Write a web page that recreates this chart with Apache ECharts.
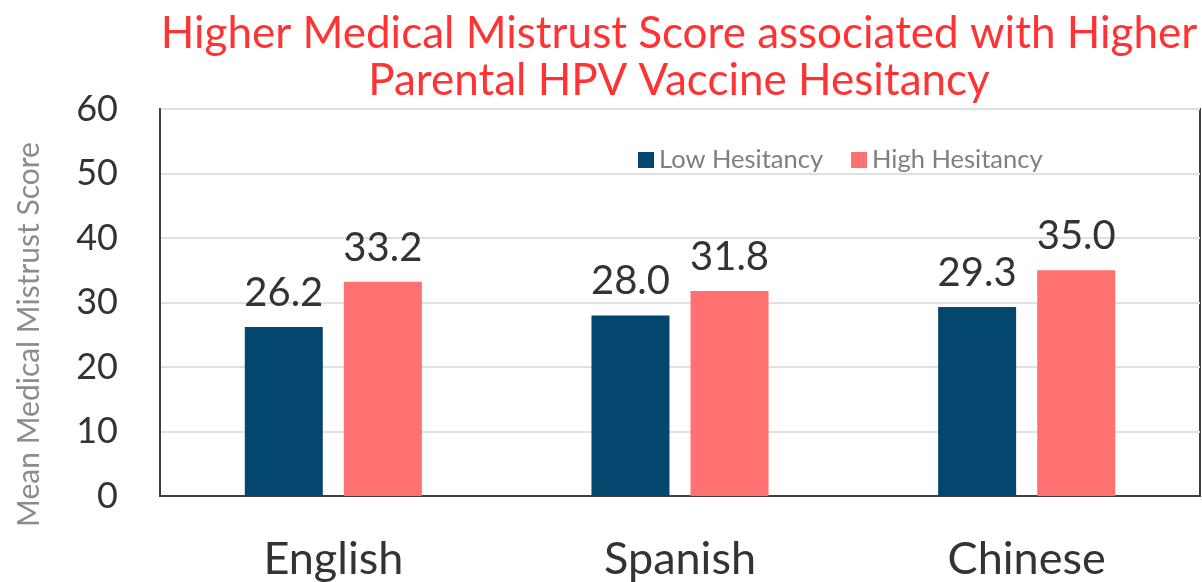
<!DOCTYPE html>
<html>
<head>
<meta charset="utf-8">
<script src="https://cdn.jsdelivr.net/npm/echarts@6/dist/echarts.min.js"></script>
<style>
html, body { margin: 0; padding: 0; background: #fff; }
#main { width: 1202px; height: 582px; }
</style>
</head>
<body>
<div id="main"></div>
<script>
var categories = ['English', 'Spanish', 'Chinese'];
var lowHesitancy = [26.2, 28.0, 29.3];
var highHesitancy = [33.2, 31.8, 35.0];
var seriesNames = ['Low Hesitancy', 'High Hesitancy'];
var yTicks = [0, 10, 20, 30, 40, 50, 60];

var chart = echarts.init(document.getElementById('main'));

var font = 'Lato, "Open Sans", sans-serif';

var option = {
    backgroundColor: '#ffffff',
    animation: false,
    title: {
        text: 'Higher Medical Mistrust Score associated with Higher\nParental HPV Vaccine Hesitancy',
        left: 674,
        textAlign: 'center',
        top: 5,
        textStyle: {
            color: '#ff3333',
            fontFamily: font,
            fontWeight: 'normal',
            fontSize: 44,
            lineHeight: 47
        }
    },
    legend: {
        data: seriesNames,
        left: 633,
        top: 142,
        itemWidth: 16,
        itemHeight: 16,
        itemGap: 28,
        icon: 'rect',
        textStyle: {
            color: '#7f7f7f',
            fontFamily: font,
            fontSize: 25.5
        }
    },
    grid: {
        left: 160,
        right: 2,
        top: 109,
        bottom: 85,
        show: true,
        borderColor: '#404040',
        borderWidth: 2
    },
    xAxis: {
        type: 'category',
        data: categories,
        axisTick: { show: false },
        axisLine: { lineStyle: { color: '#404040', width: 2 } },
        axisLabel: {
            color: '#333333',
            fontFamily: font,
            fontSize: 45,
            margin: 41
        }
    },
    yAxis: {
        type: 'value',
        min: yTicks[0],
        max: yTicks[yTicks.length - 1],
        interval: 10,
        name: 'Mean Medical Mistrust Score',
        nameLocation: 'middle',
        nameGap: 116,
        nameTextStyle: {
            color: '#8c8c8c',
            fontFamily: font,
            fontSize: 30,
            padding: [0, 64, 0, 0]
        },
        axisLine: { show: true, lineStyle: { color: '#404040', width: 2 } },
        axisTick: { show: false },
        splitLine: { lineStyle: { color: '#e0e0e0', width: 2 } },
        axisLabel: {
            color: '#333333',
            fontFamily: font,
            fontSize: 36,
            margin: 42
        }
    },
    series: [
        {
            name: seriesNames[0],
            type: 'bar',
            data: lowHesitancy,
            barWidth: 78,
            barGap: '27%',
            itemStyle: { color: '#03476f' },
            label: {
                show: true,
                position: 'top',
                distance: 14,
                color: '#333333',
                fontFamily: font,
                fontSize: 40,
                formatter: function (p) { return p.value.toFixed(1); }
            }
        },
        {
            name: seriesNames[1],
            type: 'bar',
            data: highHesitancy,
            barWidth: 78,
            barGap: '27%',
            itemStyle: { color: '#ff7171' },
            label: {
                show: true,
                position: 'top',
                distance: 14,
                color: '#333333',
                fontFamily: font,
                fontSize: 40,
                formatter: function (p) { return p.value.toFixed(1); }
            }
        }
    ]
};

chart.setOption(option);

window.onresize = function () {
    chart.resize();
};
</script>
</body>
</html>
